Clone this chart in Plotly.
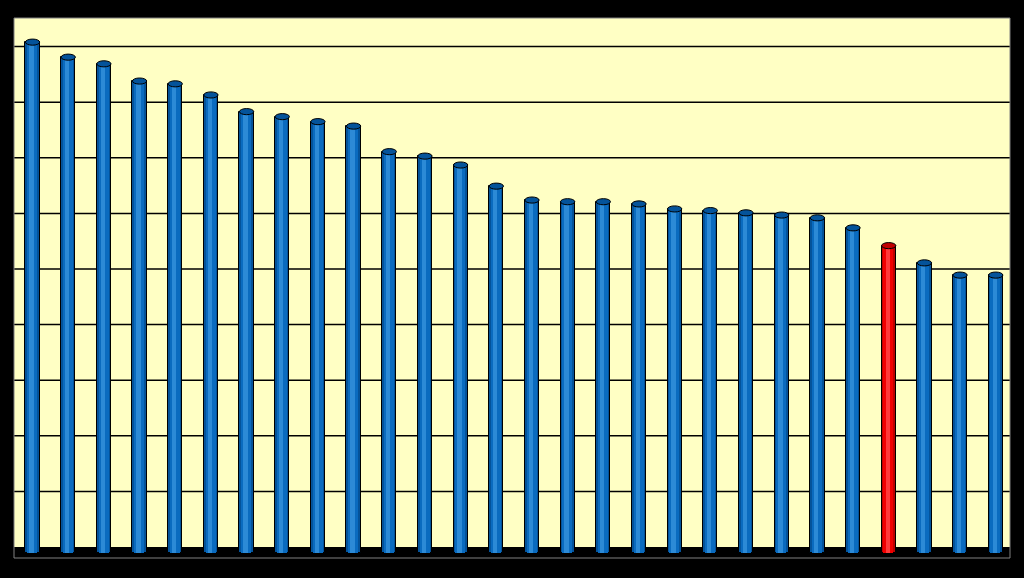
import plotly.graph_objects as go

# --- data ---
categories = list(range(1, 29))
values = [9.08, 8.81, 8.69, 8.38, 8.33, 8.13, 7.83, 7.74, 7.65, 7.57,
          7.11, 7.03, 6.87, 6.49, 6.24, 6.21, 6.21, 6.17, 6.08, 6.05,
          6.01, 5.97, 5.92, 5.74, 5.42, 5.11, 4.89, 4.89]
highlight_index = 24

# --- styles ---
BLUE_DARK = "#04539A"
BLUE_MID = "#0A6BBF"
BLUE_LIGHT = "#2C8AD6"
RED_DARK = "#C00000"
RED_MID = "#F00000"
RED_LIGHT = "#FF3A3A"
BG = "#FFFFC4"

xs = list(range(len(categories)))
base = -0.1
dark = [RED_DARK if i == highlight_index else BLUE_DARK for i in xs]
mid = [RED_MID if i == highlight_index else BLUE_MID for i in xs]
light = [RED_LIGHT if i == highlight_index else BLUE_LIGHT for i in xs]
heights = [v - base for v in values]

fig = go.Figure()
fig.add_trace(go.Bar(x=xs, y=heights, base=base, width=0.4,
                     marker=dict(color=dark, line=dict(color="black", width=1)),
                     hoverinfo="skip"))
fig.add_trace(go.Bar(x=xs, y=heights, base=base, width=0.28, offset=-0.15,
                     marker=dict(color=mid, line=dict(width=0)), hoverinfo="skip"))
fig.add_trace(go.Bar(x=xs, y=heights, base=base, width=0.12, offset=-0.09,
                     marker=dict(color=light, line=dict(width=0)), hoverinfo="skip"))

shapes = []
# black floor
shapes.append(dict(type="rect", xref="paper", yref="y", x0=0, x1=1, y0=-0.2, y1=0,
                   fillcolor="black", line=dict(width=0), layer="below"))
# gridlines
for g in range(1, 10):
    shapes.append(dict(type="line", xref="paper", yref="y", x0=0, x1=1, y0=g, y1=g,
                       line=dict(color="black", width=1.5), layer="below"))
# cylinder tops
for i, v in zip(xs, values):
    shapes.append(dict(type="circle", xref="x", yref="y",
                       x0=i - 0.2, x1=i + 0.2, y0=v - 0.055, y1=v + 0.055,
                       fillcolor=dark[i], line=dict(color="black", width=1)))
# plot border
shapes.append(dict(type="rect", xref="paper", yref="paper", x0=0, x1=1, y0=0, y1=1,
                   line=dict(color="#808080", width=1)))

fig.update_layout(
    width=1024, height=578,
    margin=dict(l=14, r=14, t=18, b=20),
    paper_bgcolor="black", plot_bgcolor=BG,
    barmode="overlay", bargap=0,
    showlegend=False,
    shapes=shapes,
    xaxis=dict(range=[-0.52, 27.40], showticklabels=False, showgrid=False,
               zeroline=False, ticks=""),
    yaxis=dict(range=[-0.198, 9.514], showticklabels=False, showgrid=False,
               zeroline=False, ticks=""),
)

fig.write_html(
    "out.html",
    config={"displayModeBar": False},
    post_script="document.body.style.margin='0';document.body.style.background='black';",
)
